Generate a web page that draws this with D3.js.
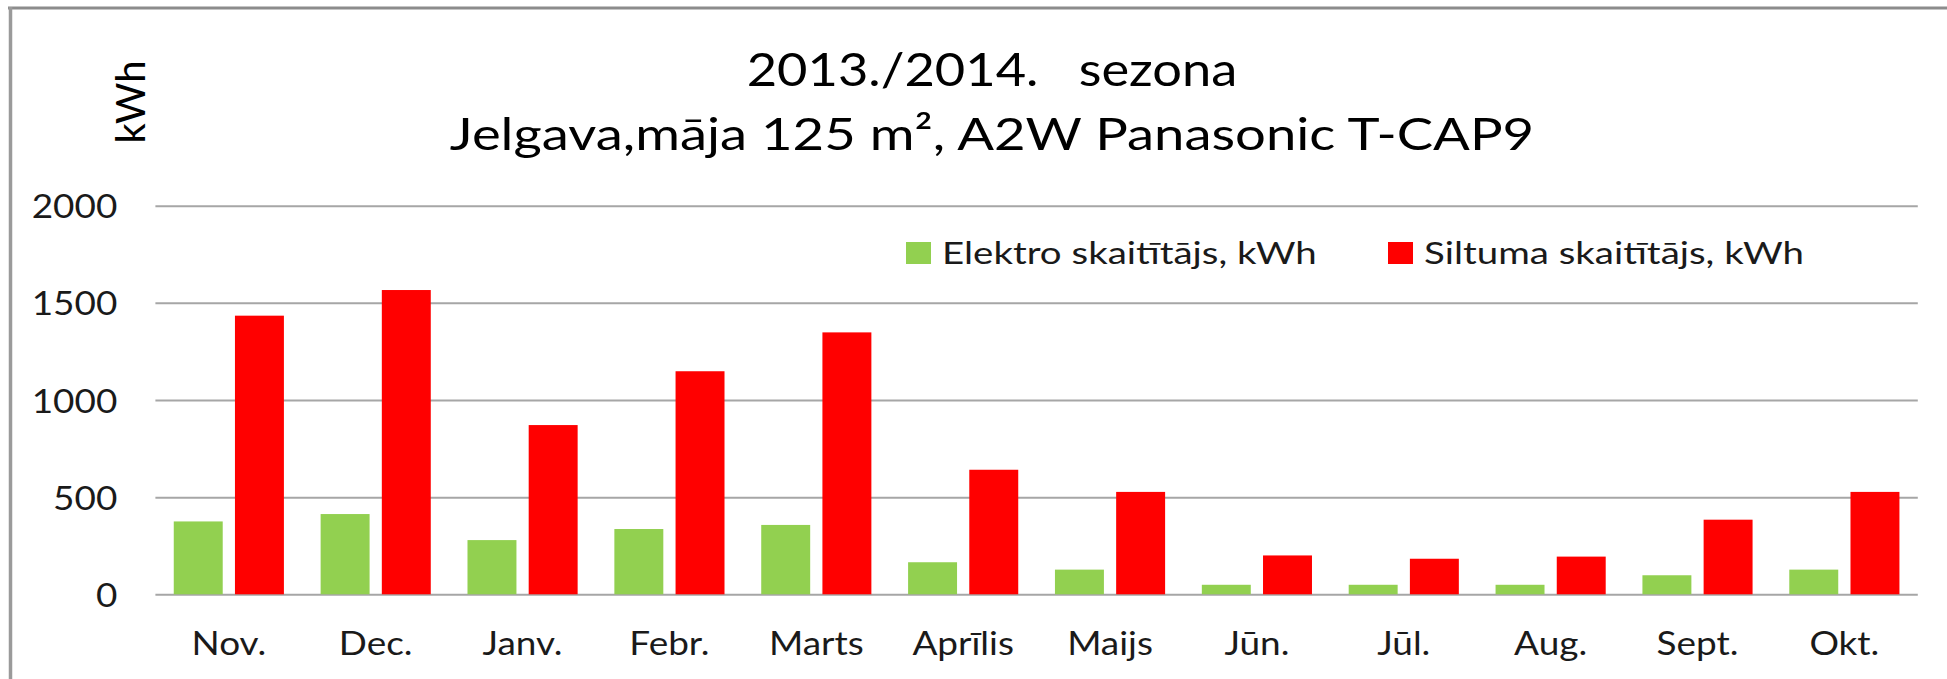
<!DOCTYPE html>
<html>
<head>
<meta charset="utf-8">
<script src="https://cdn.jsdelivr.net/npm/d3@7"></script>
<style>
  html, body { margin: 0; padding: 0; background: #fff; }
  svg { display: block; }
  text { font-family: Lato, "Open Sans", sans-serif; fill: #1a1a1a; white-space: pre; }
</style>
</head>
<body>
<svg id="chart" width="1947" height="679"></svg>
<script>
// ---- data ----
const categories = ["Nov.", "Dec.", "Janv.", "Febr.", "Marts", "Aprīlis", "Maijs", "Jūn.", "Jūl.", "Aug.", "Sept.", "Okt."];
const elektro = [375, 413, 279, 336, 357, 165, 127, 49, 49, 49, 98, 127];
const siltums = [1434, 1566, 871, 1148, 1348, 641, 527, 200, 183, 194, 384, 527];
const seriesNames = ["Elektro skaitītājs, kWh", "Siltuma skaitītājs, kWh"];
const seriesColors = ["#92d050", "#ff0000"];
const yTicks = [0, 500, 1000, 1500, 2000];
const titleLines = ["2013./2014.   sezona", "Jelgava,māja 125 m², A2W Panasonic T-CAP9"];
const yLabel = "kWh";

// ---- layout ----
const SX = 1.12; // horizontal stretch of the reference axis text
const plot = { left: 155.4, right: 1917.8, top: 205.7, bottom: 594.3 };
const svg = d3.select("#chart");

const y = d3.scaleLinear().domain([0, 2000]).range([plot.bottom, plot.top]);
const x0 = d3.scaleBand().domain(categories).range([plot.left, plot.right])
  .paddingInner(0.25).paddingOuter(0.125);
const x1 = d3.scaleBand().domain(seriesNames).range([0, x0.bandwidth()]).paddingInner(0.2);

function stretchedText(sel, x, yy, str, size, anchor, sx) {
  return sel.append("text")
    .attr("transform", `translate(${x},${yy}) scale(${sx || SX},1)`)
    .attr("text-anchor", anchor || "start")
    .attr("xml:space", "preserve")
    .style("font-size", size + "px")
    .text(str);
}

// frame
svg.append("line").attr("x1", 8).attr("x2", 1947).attr("y1", 8).attr("y2", 8)
  .attr("stroke", "#8c8c8c").attr("stroke-width", 3);
svg.append("line").attr("x1", 10.5).attr("x2", 10.5).attr("y1", 7).attr("y2", 679)
  .attr("stroke", "#9a9a9a").attr("stroke-width", 3.5);

// gridlines + y tick labels
const yAxis = d3.axisLeft(y).tickValues(yTicks).tickSize(-(plot.right - plot.left)).tickPadding(0);
const gy = svg.append("g").attr("transform", `translate(${plot.left},0)`).call(yAxis);
gy.select(".domain").remove();
gy.selectAll(".tick line").attr("stroke", "#a6a6a6").attr("stroke-width", 2);
gy.selectAll(".tick text").remove();
gy.selectAll(".tick").each(function(d) {
  stretchedText(d3.select(this), -38, 12, String(d), 33, "end");
});

// bars
const rows = categories.map((c, i) => ({ cat: c, vals: [elektro[i], siltums[i]] }));
const groups = svg.append("g").selectAll("g").data(rows).join("g")
  .attr("transform", d => `translate(${x0(d.cat)},0)`);
groups.selectAll("rect").data(d => d.vals.map((v, j) => ({ name: seriesNames[j], v, j })))
  .join("rect")
  .attr("x", d => x1(d.name))
  .attr("width", x1.bandwidth())
  .attr("y", d => y(d.v))
  .attr("height", d => y(0) - y(d.v))
  .attr("fill", d => seriesColors[d.j]);

// x axis labels
const xAxis = d3.axisBottom(x0).tickSize(0).tickPadding(0);
const gx = svg.append("g").attr("transform", `translate(0,${plot.bottom})`).call(xAxis);
gx.select(".domain").remove();
gx.selectAll(".tick text").remove();
gx.selectAll(".tick").each(function(d) {
  stretchedText(d3.select(this), 0, 61, d, 33, "middle");
});

// titles
stretchedText(svg, 992, 86, titleLines[0], 46, "middle", 1.14).style("fill", "#000");
stretchedText(svg, 992, 150, titleLines[1], 45, "middle", 1.21).style("fill", "#000");

// y label
svg.append("text")
  .attr("transform", "translate(145,102) rotate(-90)")
  .attr("text-anchor", "middle")
  .style("font-size", "40px")
  .style("fill", "#000")
  .text(yLabel);

// legend
const legendX = [906, 1388];
seriesNames.forEach((n, j) => {
  svg.append("rect").attr("x", legendX[j]).attr("y", 242).attr("width", 25).attr("height", 22)
    .attr("fill", seriesColors[j]);
  stretchedText(svg, legendX[j] + 36, 264, n, 31, "start", 1.24);
});
</script>
</body>
</html>
